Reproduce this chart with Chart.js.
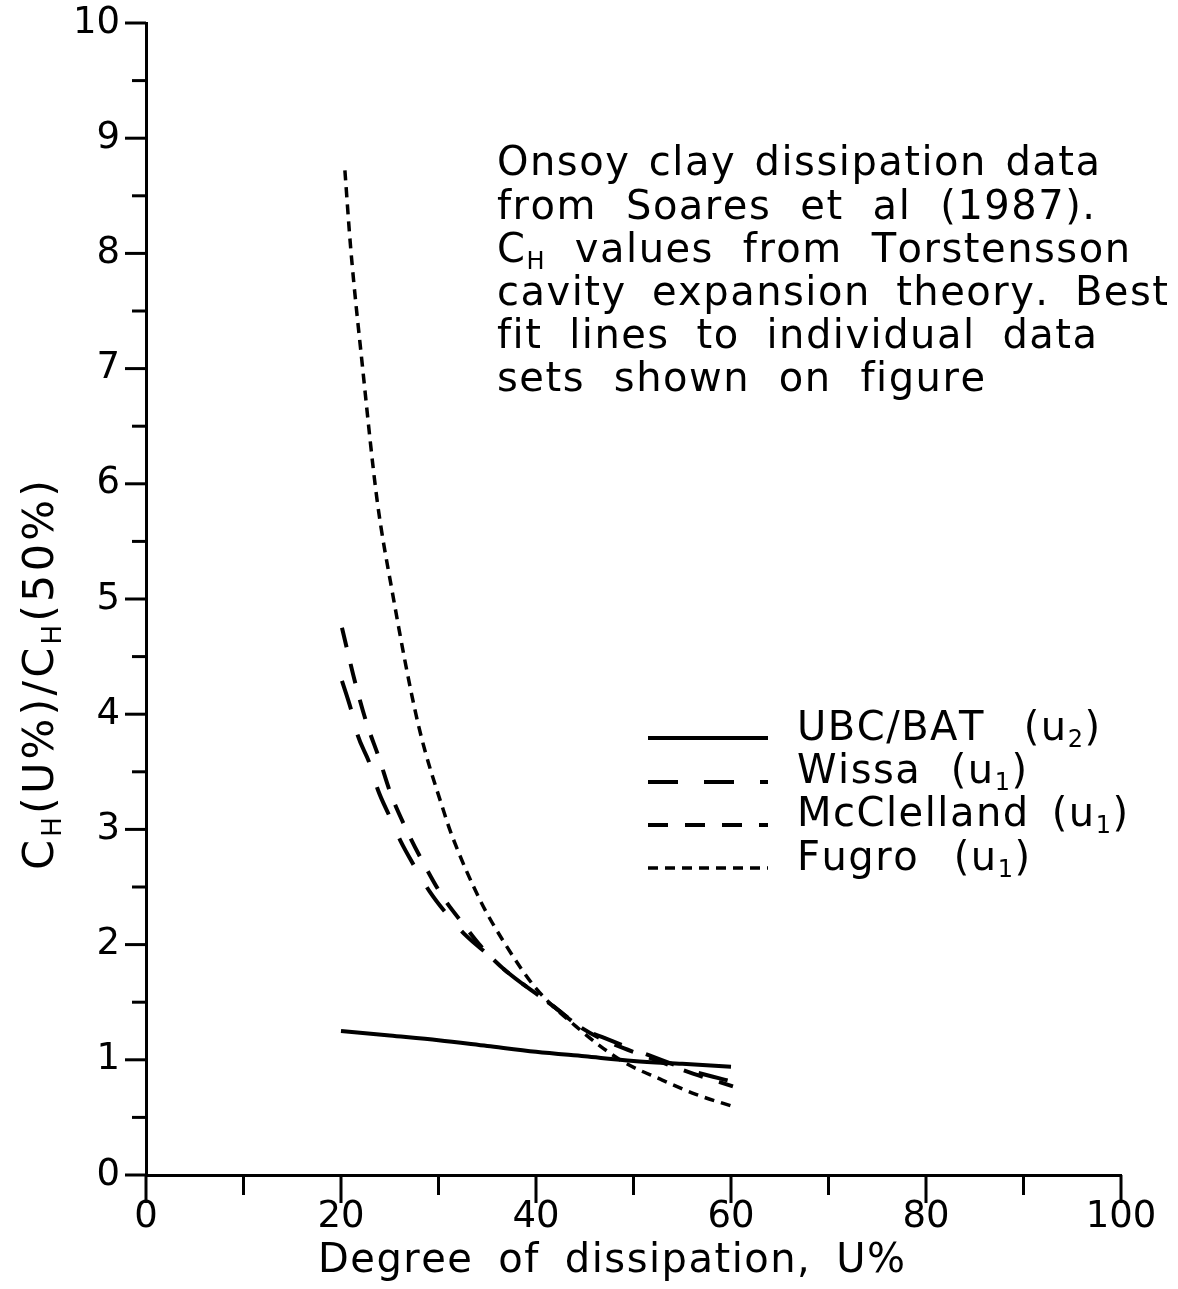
<!DOCTYPE html>
<html>
<head>
<meta charset="utf-8">
<title>Onsoy clay dissipation</title>
<script src="https://cdn.jsdelivr.net/npm/chart.js@4.4.0/dist/chart.umd.min.js"></script>
<style>
  html, body { margin: 0; padding: 0; background: #fff; }
  canvas { display: block; }
</style>
</head>
<body>
<canvas id="chart" width="1178" height="1289"></canvas>
<script>
// degree of dissipation (%) and C_H ratio for each best-fit line
const ubcX = [20, 25, 30, 35, 40, 45, 50, 55, 60];
const ubcY = [1.25, 1.21, 1.17, 1.12, 1.07, 1.03, 0.99, 0.965, 0.94];

const wissaX = [20.1, 21.0, 21.7, 22.9, 23.8, 25.0, 26.1, 27.6, 29.1, 30.9, 32.8, 35.4, 36.8, 41.7, 44.8, 47.0, 51.9, 56.1, 60.2];
const wissaY = [4.29, 4.05, 3.82, 3.58, 3.34, 3.11, 2.90, 2.67, 2.46, 2.26, 2.08, 1.89, 1.78, 1.47, 1.27, 1.19, 1.03, 0.90, 0.81];

const mccX = [20.1, 21.5, 22.6, 23.9, 25.1, 26.7, 28.5, 30.4, 32.8, 34.2, 35.4, 36.8, 41.7, 44.8, 47.0, 51.9, 56.1, 60.2];
const mccY = [4.75, 4.26, 3.93, 3.62, 3.31, 3.00, 2.70, 2.42, 2.15, 2.00, 1.89, 1.78, 1.47, 1.27, 1.17, 1.01, 0.88, 0.77];

const fugroX = [20.4, 21.0, 22.2, 23.7, 25.2, 27.9, 30.6, 31.5, 34.3, 36.8, 40.0, 44.1, 48.8, 52.8, 56.4, 60.0];
const fugroY = [8.72, 8.04, 7.02, 5.86, 5.09, 3.92, 3.14, 2.92, 2.38, 2.01, 1.62, 1.29, 0.99, 0.83, 0.70, 0.60];

const xTickStep = 20;
const yTickStep = 1;

const noteLines = [
  [['Onsoy clay dissipation data']],
  [['from Soares et al (1987).']],
  [['C'], ['H', true], [' values from Torstensson']],
  [['cavity expansion theory. Best']],
  [['fit lines to individual data']],
  [['sets shown on figure']]
];
const noteWidths = [603, 598, 633, 671, 600, 488];
const legendWidths = [303, 230, 331, 233];

const FONT = '"DejaVu Sans", sans-serif';
const LETTER_GAP = 1.5;

function pts(xs, ys) {
  return xs.map((x, i) => ({ x: x, y: ys[i] }));
}

function partFont(size, sub) {
  return `${sub ? Math.round(size * 0.6) : size}px ${FONT}`;
}

// natural width, character count and space count of a run of text pieces
function measureParts(ctx, parts, size) {
  let w = 0, chars = 0, spaces = 0;
  parts.forEach(([txt, sub]) => {
    ctx.font = partFont(size, sub);
    for (const ch of txt) {
      w += ctx.measureText(ch).width;
      chars++;
      if (ch === ' ') spaces++;
    }
  });
  return { w, chars, spaces };
}

// draws text pieces character by character, spreading extra room into the
// word gaps (or letter gaps when there are none) so the run ends at the
// wanted width; subscripts shrink and drop
function drawParts(ctx, parts, x, y, size, width) {
  const m = measureParts(ctx, parts, size);
  let letterGap = LETTER_GAP, wordGap = 0;
  if (width && m.spaces) {
    wordGap = (width - m.w - letterGap * (m.chars - 1)) / m.spaces;
  } else if (width) {
    letterGap = (width - m.w) / (m.chars - 1);
  }
  let cx = x;
  parts.forEach(([txt, sub]) => {
    ctx.font = partFont(size, sub);
    for (const ch of txt) {
      ctx.fillText(ch, cx, sub ? y + size * 0.28 : y);
      cx += ctx.measureText(ch).width + letterGap + (ch === ' ' ? wordGap : 0);
    }
  });
}

const series = [
  { label: 'UBC/BAT', sub: '2', data: pts(ubcX, ubcY), dash: [], width: 4 },
  { label: 'Wissa', sub: '1', data: pts(wissaX, wissaY), dash: [30, 26], width: 4 },
  { label: 'McClelland', sub: '1', data: pts(mccX, mccY), dash: [20, 17], width: 4 },
  { label: 'Fugro', sub: '1', data: pts(fugroX, fugroY), dash: [10, 7], width: 3.5 }
];

const extras = {
  id: 'extras',
  afterDraw(chart) {
    const { ctx, chartArea } = chart;
    const xs = chart.scales.x, ys = chart.scales.y;
    ctx.save();
    ctx.strokeStyle = '#000';
    ctx.fillStyle = '#000';
    ctx.lineWidth = 3;
    ctx.lineCap = 'butt';

    // tick marks, longer at labelled values
    for (let v = 0; v <= 100; v += 10) {
      const px = xs.getPixelForValue(v);
      const len = v % 20 === 0 ? 28 : 20;
      ctx.beginPath();
      ctx.moveTo(px, chartArea.bottom);
      ctx.lineTo(px, chartArea.bottom + len);
      ctx.stroke();
    }
    for (let i = 0; i <= 20; i++) {
      const py = ys.getPixelForValue(i / 2);
      const len = i % 2 === 0 ? 21 : 14;
      ctx.beginPath();
      ctx.moveTo(chartArea.left, py);
      ctx.lineTo(chartArea.left - len, py);
      ctx.stroke();
    }

    ctx.textBaseline = 'middle';
    ctx.textAlign = 'left';

    // x axis title
    drawParts(ctx, [['Degree of dissipation, U%']], 318, 1262, 40, 587);

    // y axis title, rotated
    ctx.save();
    ctx.translate(42, 870);
    ctx.rotate(-Math.PI / 2);
    drawParts(ctx, [['C'], ['H', true], ['(U%)/C'], ['H', true], ['(50%)']], 0, 0, 43, 390);
    ctx.restore();

    // note block
    noteLines.forEach((line, i) => {
      drawParts(ctx, line, 497, 165 + i * 43.2, 40, noteWidths[i]);
    });

    // legend
    const legY = [738, 782, 825, 868];
    const txtY = [730, 773, 816, 860];
    series.forEach((s, i) => {
      ctx.setLineDash(s.dash);
      ctx.lineWidth = s.width;
      ctx.beginPath();
      ctx.moveTo(648, legY[i]);
      ctx.lineTo(768, legY[i]);
      ctx.stroke();
      ctx.setLineDash([]);
      drawParts(ctx, [[s.label + ' ('], ['u'], [s.sub, true], [')']], 797, txtY[i], 40, legendWidths[i]);
    });
    ctx.restore();
  }
};

new Chart(document.getElementById('chart'), {
  type: 'scatter',
  data: {
    datasets: series.map(s => ({
      label: s.label,
      data: s.data,
      showLine: true,
      borderColor: '#000',
      borderWidth: s.width,
      borderDash: s.dash,
      pointRadius: 0,
      cubicInterpolationMode: 'monotone',
      fill: false
    }))
  },
  options: {
    responsive: false,
    animation: false,
    events: [],
    layout: { autoPadding: false, padding: { top: 23, right: 57, bottom: 0, left: 0 } },
    plugins: { legend: { display: false }, tooltip: { enabled: false } },
    scales: {
      x: {
        type: 'linear',
        min: 0,
        max: 100,
        grid: { display: false, drawTicks: false },
        border: { display: true, color: '#000', width: 3 },
        ticks: { stepSize: xTickStep, padding: 20, color: '#000', font: { family: FONT, size: 37 } },
        afterFit: s => { s.height = 1289 - 1175; s.paddingLeft = 0; s.paddingRight = 0; }
      },
      y: {
        type: 'linear',
        min: 0,
        max: 10,
        grid: { display: false, drawTicks: false },
        border: { display: true, color: '#000', width: 3 },
        ticks: { stepSize: yTickStep, padding: 26, color: '#000', font: { family: FONT, size: 37 } },
        afterFit: s => { s.width = 146; s.paddingTop = 0; s.paddingBottom = 0; }
      }
    }
  },
  plugins: [extras]
});
</script>
</body>
</html>
